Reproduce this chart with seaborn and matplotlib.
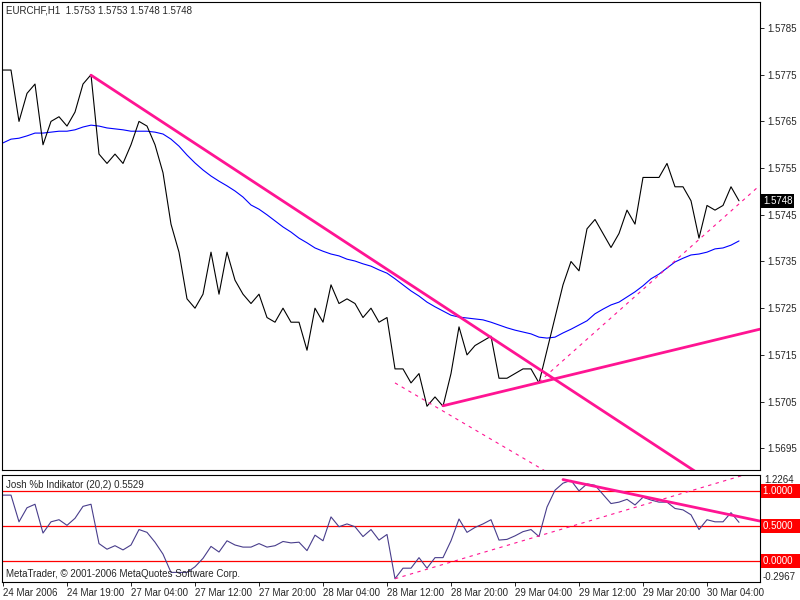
import numpy as np
import pandas as pd
import matplotlib
matplotlib.use('Agg')
from matplotlib import pyplot as plt
import seaborn as sns

# hourly EURCHF closes, one per bar
close = [1.5776, 1.5776, 1.5765, 1.5771, 1.5773, 1.5760, 1.5765, 1.5766, 1.5764, 1.5767,
         1.5773, 1.5775, 1.5758, 1.5756, 1.5758, 1.5756, 1.5760, 1.5765, 1.5764, 1.5760,
         1.5754, 1.5743, 1.5737, 1.5727, 1.5725, 1.5728, 1.5737, 1.5728, 1.5737, 1.5731,
         1.5728, 1.5726, 1.5728, 1.5723, 1.5722, 1.5725, 1.5722, 1.5722, 1.5716, 1.5725,
         1.5722, 1.5730, 1.5726, 1.5727, 1.5726, 1.5723, 1.5725, 1.5722, 1.5723, 1.5712,
         1.5712, 1.5709, 1.5711, 1.5704, 1.5706, 1.5704, 1.5711, 1.5721, 1.5715, 1.5717,
         1.5718, 1.5719, 1.5710, 1.5710, 1.5711, 1.5712, 1.5712, 1.5709, 1.5716, 1.5723,
         1.5730, 1.5735, 1.5733, 1.5742, 1.5744, 1.5741, 1.5738, 1.5741, 1.5746, 1.5743,
         1.5753, 1.5753, 1.5753, 1.5756, 1.5751, 1.5751, 1.5748, 1.5740, 1.5747, 1.5746,
         1.5747, 1.5751, 1.5748]

# moving average (blue)
ma = [1.57604, 1.57612, 1.57614, 1.57619, 1.57625, 1.57625, 1.57627, 1.57629, 1.57629, 1.57632,
      1.57638, 1.57642, 1.57640, 1.57636, 1.57634, 1.57632, 1.57629, 1.57629, 1.57629, 1.57627,
      1.57623, 1.57612, 1.57597, 1.57578, 1.57561, 1.57546, 1.57533, 1.57522, 1.57512, 1.57501,
      1.57488, 1.57471, 1.57462, 1.57450, 1.57437, 1.57424, 1.57413, 1.57400, 1.57390, 1.57379,
      1.57372, 1.57366, 1.57362, 1.57355, 1.57351, 1.57345, 1.57340, 1.57332, 1.57325, 1.57313,
      1.57300, 1.57287, 1.57276, 1.57263, 1.57253, 1.57244, 1.57235, 1.57231, 1.57229, 1.57227,
      1.57225, 1.57220, 1.57214, 1.57208, 1.57203, 1.57199, 1.57195, 1.57188, 1.57186, 1.57188,
      1.57197, 1.57205, 1.57214, 1.57223, 1.57238, 1.57248, 1.57257, 1.57263, 1.57274, 1.57285,
      1.57298, 1.57313, 1.57323, 1.57336, 1.57349, 1.57357, 1.57364, 1.57366, 1.57370, 1.57377,
      1.57379, 1.57385, 1.57394]

# Josh %b indicator
pctb = [0.94, 0.94, 0.56, 0.76, 0.81, 0.40, 0.56, 0.59, 0.51, 0.61,
        0.78, 0.81, 0.25, 0.17, 0.22, 0.16, 0.23, 0.45, 0.41, 0.27,
        0.10, -0.16, -0.16, -0.16, -0.08, 0.04, 0.21, 0.13, 0.29, 0.23,
        0.20, 0.20, 0.25, 0.20, 0.22, 0.28, 0.26, 0.27, 0.15, 0.37,
        0.29, 0.63, 0.49, 0.53, 0.49, 0.35, 0.45, 0.30, 0.38, -0.25,
        -0.10, -0.10, 0.05, -0.10, 0.05, 0.05, 0.29, 0.60, 0.41, 0.48,
        0.53, 0.59, 0.30, 0.31, 0.36, 0.42, 0.45, 0.35, 0.77, 1.01,
        1.11, 1.15, 1.00, 1.10, 1.08, 0.95, 0.82, 0.84, 0.88, 0.80,
        0.91, 0.87, 0.84, 0.84, 0.75, 0.73, 0.66, 0.45, 0.59, 0.56,
        0.56, 0.69, 0.5529]

x_tick_bars = [0, 8, 16, 24, 32, 40, 48, 56, 64, 72, 80, 88]
x_tick_labels = ['24 Mar 2006', '24 Mar 19:00', '27 Mar 04:00', '27 Mar 12:00',
                 '27 Mar 20:00', '28 Mar 04:00', '28 Mar 12:00', '28 Mar 20:00',
                 '29 Mar 04:00', '29 Mar 12:00', '29 Mar 20:00', '30 Mar 04:00']
price_ticks = [1.5695, 1.5705, 1.5715, 1.5725, 1.5735, 1.5745, 1.5755, 1.5765, 1.5775, 1.5785]
pctb_levels = [0.0, 0.5, 1.0]

# trend lines: (bars, values)
tl_down = ([11, 92], [1.57749, 1.56839])
tl_up = ([55, 94.6], [1.57041, 1.57205])
tl_channel = ([49, 70], [1.57090, 1.56879])
tl_support = ([67, 94.6], [1.57092, 1.57513])
pb_down = ([70, 94.6], [1.161, 0.571])
pb_up = ([49, 94.6], [-0.25, 1.293])

df = pd.DataFrame({'bar': np.arange(len(close)), 'close': close, 'ma': ma, 'pctb': pctb})

sns.set_style('white')
plt.rcParams['font.family'] = ['Liberation Sans', 'DejaVu Sans']
plt.rcParams['font.size'] = 7

pink = '#FF1493'
fig = plt.figure(figsize=(8, 6), dpi=100)
ax = fig.add_axes([2 / 800, 130 / 600, 758 / 800, 468 / 600])
ax_b = fig.add_axes([2 / 800, 18 / 600, 758 / 800, 107 / 600])

# main price panel
sns.lineplot(data=df, x='bar', y='ma', ax=ax, color='#0000FF', linewidth=0.8, sort=False)
sns.lineplot(data=df, x='bar', y='close', ax=ax, color='black', linewidth=0.8, sort=False)
ax.plot(*tl_down, color=pink, linewidth=2)
ax.plot(*tl_up, color=pink, linewidth=2)
ax.plot(*tl_channel, color=pink, linewidth=0.8, linestyle=(0, (3, 4)))
ax.plot(*tl_support, color=pink, linewidth=0.8, linestyle=(0, (3, 4)))

ax.set_xlim(-0.125, 94.625)
ax.set_ylim(1.569035, 1.579057)
ax.set_xticks([])
ax.yaxis.tick_right()
ax.set_yticks(price_ticks)
ax.set_yticklabels([f'{p:.4f}' for p in price_ticks])
ax.tick_params(axis='y', length=3, width=0.7, pad=2, labelsize=7, right=True, left=False)
ax.set_xlabel('')
ax.set_ylabel('')
ax.text(4 / 758, 0.981, 'EURCHF,H1  1.5753 1.5753 1.5748 1.5748',
        transform=ax.transAxes, va='center', ha='left', fontsize=7)
ax.text(1.004, close[-1], f'{close[-1]:.4f}', transform=ax.get_yaxis_transform(),
        va='center', ha='left', color='white', fontsize=7, clip_on=False,
        bbox=dict(boxstyle='square,pad=0.2', fc='black', ec='none'))

# %b indicator panel
for lv in pctb_levels:
    ax_b.axhline(lv, color='red', linewidth=0.9)
sns.lineplot(data=df, x='bar', y='pctb', ax=ax_b, color='#483D8B', linewidth=0.8, sort=False)
ax_b.plot(*pb_down, color=pink, linewidth=2)
ax_b.plot(*pb_up, color=pink, linewidth=0.8, linestyle=(0, (3, 4)))

ax_b.set_xlim(-0.125, 94.625)
ax_b.set_ylim(-0.2967, 1.2264)
ax_b.set_yticks([])
ax_b.set_xticks(x_tick_bars)
ax_b.set_xticklabels(x_tick_labels, ha='left')
ax_b.tick_params(axis='x', length=3, width=0.7, pad=1, labelsize=7, bottom=True)
ax_b.set_xlabel('')
ax_b.set_ylabel('')
ax_b.text(4 / 758, 0.906, 'Josh %b Indikator (20,2) 0.5529',
          transform=ax_b.transAxes, va='center', ha='left', fontsize=7)
ax_b.text(4 / 758, 0.075, 'MetaTrader, © 2001-2006 MetaQuotes Software Corp.',
          transform=ax_b.transAxes, va='center', ha='left', fontsize=7)

ytr = ax_b.get_yaxis_transform()
ax_b.text(1.006, 1.0, '1.2264', transform=ax_b.transAxes, va='top', ha='left', fontsize=7)
ax_b.text(1.004, 0.0, '-0.2967', transform=ax_b.transAxes, va='bottom', ha='left', fontsize=7)
for lv in pctb_levels:
    ax_b.text(1.004, lv, f'{lv:.4f}  ', transform=ytr, va='center', ha='left',
              color='white', fontsize=7, clip_on=False,
              bbox=dict(boxstyle='square,pad=0.2', fc='red', ec='none'))

for a in (ax, ax_b):
    for s in a.spines.values():
        s.set_visible(True)
        s.set_color('black')
        s.set_linewidth(0.8)

fig.savefig('out.png', dpi=100, facecolor='white')
